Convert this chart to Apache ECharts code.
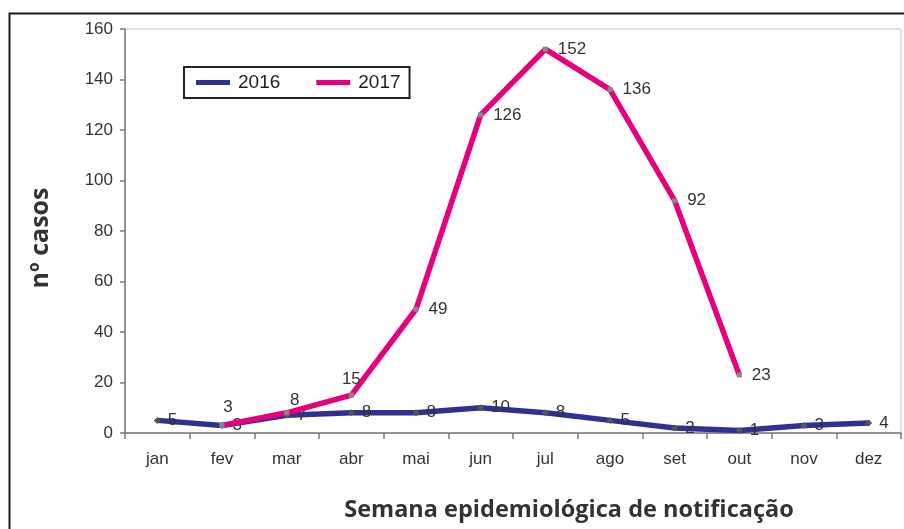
<!DOCTYPE html>
<html>
<head>
<meta charset="utf-8">
<script src="https://cdn.jsdelivr.net/npm/echarts@6/dist/echarts.min.js"></script>
<style>
  html, body { margin: 0; padding: 0; background: #fff; }
  #main { width: 904px; height: 529px; }
</style>
</head>
<body>
<div id="main"></div>
<script>
// months (x axis)
const months = ['jan', 'fev', 'mar', 'abr', 'mai', 'jun', 'jul', 'ago', 'set', 'out', 'nov', 'dez'];
// cases per month
const cases2016 = [5, 3, 7, 8, 8, 10, 8, 5, 2, 1, 3, 4];
const cases2017 = [null, 3, 8, 15, 49, 126, 152, 136, 92, 23, null, null];

const BLUE = '#2e3192';
const PINK = '#e6007e';
const TXT = '#333';

// first few 2017 labels sit above the point, others to the right
const topLabels = { 1: [6, 3], 2: [8, 9], 3: [0, 5] };

const chart = echarts.init(document.getElementById('main'));
chart.setOption({
  animation: false,
  grid: { left: 125, right: 3, top: 29, bottom: 96, show: true, borderColor: '#c4c4c4', borderWidth: 1 },
  legend: {
    left: 184, top: 67,
    orient: 'horizontal',
    padding: [6, 9, 6, 12],
    borderColor: '#222', borderWidth: 2,
    itemGap: 36,
    itemWidth: 34, itemHeight: 5,
    icon: 'rect',
    textStyle: { fontFamily: 'Liberation Sans', fontSize: 19, color: '#222', padding: [0, 0, 0, 3] },
    data: [
      { name: '2016', itemStyle: { color: BLUE } },
      { name: '2017', itemStyle: { color: PINK } }
    ]
  },
  xAxis: {
    type: 'category',
    data: months,
    boundaryGap: true,
    axisLine: { lineStyle: { color: '#7a7a7a', width: 1.5 } },
    axisTick: { show: true, length: 6, lineStyle: { color: '#7a7a7a', width: 1.5 } },
    axisLabel: { fontFamily: 'Liberation Sans', fontSize: 17, color: TXT, margin: 18 }
  },
  yAxis: {
    type: 'value',
    min: 0, max: 160, interval: 20,
    splitLine: { show: false },
    axisLine: { show: true, lineStyle: { color: '#7a7a7a', width: 1.5 } },
    axisTick: { show: true, length: 5, lineStyle: { color: '#7a7a7a', width: 1.5 } },
    axisLabel: { fontFamily: 'Liberation Sans', fontSize: 17, color: TXT, margin: 12 }
  },
  graphic: [
    {
      type: 'rect', left: 7, top: 11, silent: true,
      shape: { width: 1000, height: 700 },
      style: { fill: 'none', stroke: '#1a1a1a', lineWidth: 2 }
    },
    {
      type: 'text', x: 41, y: 238, rotation: Math.PI / 2,
      style: {
        text: 'nº casos', fontFamily: 'Open Sans', fontWeight: 'bold', fontSize: 25,
        fill: '#333', align: 'center', verticalAlign: 'middle'
      }
    },
    {
      type: 'text', x: 569, y: 510,
      style: {
        text: 'Semana epidemiológica de notificação', fontFamily: 'Open Sans', fontWeight: 'bold', fontSize: 23.5,
        fill: '#333', align: 'center', verticalAlign: 'middle'
      }
    }
  ],
  series: [
    {
      name: '2016',
      type: 'line',
      data: cases2016,
      symbol: 'diamond', symbolSize: 7,
      itemStyle: { color: '#555' },
      lineStyle: { color: BLUE, width: 5.5 },
      label: {
        show: true, position: 'right', distance: 7,
        fontFamily: 'Liberation Sans', fontSize: 17, color: TXT
      },
      z: 2
    },
    {
      name: '2017',
      type: 'line',
      data: cases2017.map((v, i) => {
        if (v == null) return null;
        const off = topLabels[i];
        if (off) return { value: v, label: { position: 'top', offset: off } };
        return v;
      }),
      symbol: 'rect', symbolSize: 5,
      itemStyle: { color: '#888' },
      lineStyle: { color: PINK, width: 5.5 },
      label: {
        show: true, position: 'right', distance: 10,
        fontFamily: 'Liberation Sans', fontSize: 17, color: TXT
      },
      z: 3
    }
  ]
});
</script>
</body>
</html>
